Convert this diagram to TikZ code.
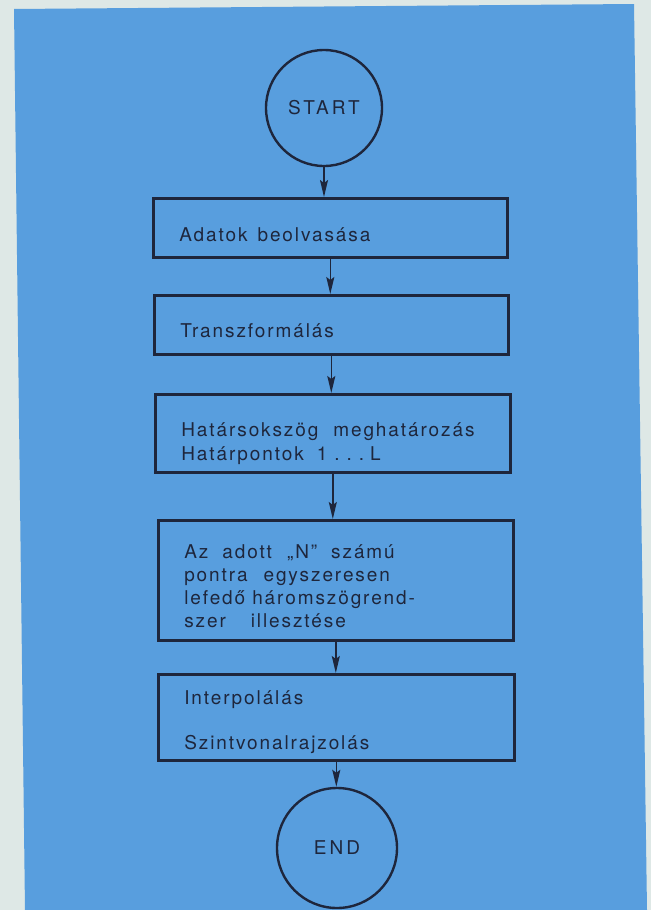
\documentclass[tikz,border=0pt]{standalone}
\usepackage{fontspec}
\usetikzlibrary{arrows.meta}
\newfontfamily\flowfont[LetterSpace=10]{TeX Gyre Heros}
\newfontfamily\termfont[LetterSpace=16]{TeX Gyre Heros}
\definecolor{paper}{RGB}{222,232,230}
\definecolor{sheet}{RGB}{88,158,222}
\definecolor{ink}{RGB}{30,38,60}
\newcommand\wgap[1]{\hspace{#1pt}}
\begin{document}
\begin{tikzpicture}
[x=1pt,y=-1pt,
 flowbox/.style={draw=ink,line width=2.6pt,anchor=north west,inner xsep=26pt,
   inner ysep=0pt,align=left,text=ink,font=\flowfont\fontsize{19}{23}\selectfont},
 terminal/.style={draw=ink,line width=2.4pt,circle,inner sep=0pt,text=ink,
   font=\termfont\fontsize{19}{23}\selectfont},
 flowarrow/.style={draw=ink,line width=1.6pt,-{Stealth[length=17pt,width=8pt,inset=3pt]}}]
%% paper and blue sheet
\fill[paper] (0,0) rectangle (651,910);
\fill[sheet] (14,9) -- (634,4) -- (647,910) -- (25,910) -- cycle;
%% terminals
\node[terminal,minimum size=116pt] (start) at (324,108) {START};
\node[terminal,minimum size=120pt] (end) at (337,848) {END};
%% process boxes
\node[flowbox,text width=302pt,text height=43pt,text depth=16pt] (b1) at (152,197)
  {Adatok\wgap{10}beolvasása};
\node[flowbox,text width=302pt,text height=42pt,text depth=17pt] (b2) at (153,294)
  {Transzformálás};
\node[flowbox,text width=303pt,text height=42pt,text depth=36pt] (b3) at (154,393)
  {Határsokszög\wgap{15}meghatározás\\[1pt]
   Határpontok\wgap{13}1\hspace{7pt}.\hspace{7pt}.\hspace{7pt}.\hspace{6pt}L};
\node[flowbox,text width=303pt,text height=38pt,text depth=82pt] (b4) at (157,519)
  {Az\wgap{14}adott\wgap{15}„N”\wgap{14}számú\\
   pontra\wgap{16}egyszeresen\\
   lefedő\wgap{7}háromszögrend-\\
   szer\wgap{25}illesztése};
\node[flowbox,text width=304pt,text height=30pt,text depth=56pt] (b5) at (157,673)
  {Interpolálás\\[22pt] Szintvonalrajzolás};
%% connectors
\foreach \from/\to in {start/b1, b1/b2, b2/b3, b3/b4, b4/b5, b5/end}
{
  \draw[flowarrow] (\from.south) -- (\from.south |- \to.north);
}
\end{tikzpicture}
\end{document}
